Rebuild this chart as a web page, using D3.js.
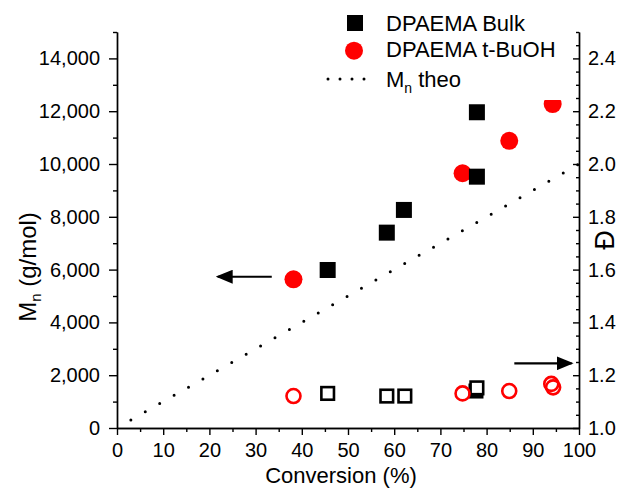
<!DOCTYPE html>
<meta charset="utf-8">
<script src="https://cdn.jsdelivr.net/npm/d3@7"></script>
<style>
  body { margin: 0; background: #fff; }
  text { font-family: Arial, "Liberation Sans", sans-serif; fill: #000; }
</style>
<div id="my_dataviz"></div>
<script>

// Mn vs conversion
var bulkConv = [45.6, 58.4, 62.1, 77.9, 77.9];
var bulkMn = [5985, 7400, 8260, 9520, 11960];
var tbuConv = [38.2, 74.8, 84.9, 94.3];
var tbuMn = [5630, 9650, 10880, 12270];

// dispersity vs conversion
var bulkDispConv = [45.6, 58.4, 62.3, 77.9];
var bulkDisp = [1.131, 1.121, 1.121, 1.152];
var bulkDispFilledConv = [77.7];
var bulkDispFilled = [1.140];
var tbuDispConv = [38.2, 74.8, 84.9, 94.0, 94.4];
var tbuDisp = [1.121, 1.131, 1.140, 1.167, 1.154];

// theoretical Mn
var theoConv = [3, 100];
var theoMn = [300, 10000];

// arrows (conversion from, to ; value)
var leftArrowConv = [33.5, 21.8];
var leftArrowMn = 5730;
var rightArrowConv = [86.0, 98.4];
var rightArrowDisp = 1.245;

// ticks
var xTicks = [0, 10, 20, 30, 40, 50, 60, 70, 80, 90, 100];
var xMinor = [5, 15, 25, 35, 45, 55, 65, 75, 85, 95];
var yTicks = [0, 2000, 4000, 6000, 8000, 10000, 12000, 14000];
var yMinor = [1000, 3000, 5000, 7000, 9000, 11000, 13000, 15000];
var dTicks = [1.0, 1.2, 1.4, 1.6, 1.8, 2.0, 2.2, 2.4];
var dMinor = [1.05, 1.1, 1.15, 1.25, 1.3, 1.35, 1.45, 1.5, 1.55, 1.65, 1.7, 1.75,
              1.85, 1.9, 1.95, 2.05, 2.1, 2.15, 2.25, 2.3, 2.35, 2.45, 2.5];

var W = 621, H = 489;
var margin = {left: 117, right: 579, top: 32, bottom: 428};

var svg = d3.select("#my_dataviz")
  .append("svg")
    .attr("width", W)
    .attr("height", H);

var x = d3.scaleLinear().domain([0, 100]).range([margin.left, margin.right]);
var y = d3.scaleLinear().domain([0, 15000]).range([margin.bottom, margin.top]);
var yd = d3.scaleLinear().domain([1.0, 2.5]).range([margin.bottom, margin.top]);

function styleAxis(g) {
  g.selectAll("path, line").attr("stroke", "#000").attr("stroke-width", 1.4);
  g.selectAll("text").attr("font-size", 20).attr("fill", "#000")
    .attr("font-family", "Arial, 'Liberation Sans', sans-serif");
}

// bottom axis
svg.append("g")
  .attr("transform", "translate(0," + margin.bottom + ")")
  .call(d3.axisBottom(x).tickValues(xMinor).tickSize(4).tickFormat("").tickSizeOuter(0))
  .call(styleAxis);
svg.append("g")
  .attr("transform", "translate(0," + margin.bottom + ")")
  .call(d3.axisBottom(x).tickValues(xTicks).tickSize(7).tickPadding(8).tickSizeOuter(0))
  .call(styleAxis);

// left axis
svg.append("g")
  .attr("transform", "translate(" + margin.left + ",0)")
  .call(d3.axisLeft(y).tickValues(yMinor).tickSize(4).tickFormat("").tickSizeOuter(0))
  .call(styleAxis);
svg.append("g")
  .attr("transform", "translate(" + margin.left + ",0)")
  .call(d3.axisLeft(y).tickValues(yTicks).tickSize(8).tickPadding(9).tickSizeOuter(0).tickFormat(d3.format(",")))
  .call(styleAxis);

// right axis (ticks point inward)
svg.append("g")
  .attr("transform", "translate(" + margin.right + ",0)")
  .call(d3.axisRight(yd).tickValues(dMinor).tickSize(-3).tickFormat("").tickSizeOuter(0))
  .call(styleAxis);
svg.append("g")
  .attr("transform", "translate(" + margin.right + ",0)")
  .call(d3.axisRight(yd).tickValues(dTicks).tickSize(-6).tickPadding(9).tickSizeOuter(0).tickFormat(d3.format(".1f")))
  .call(styleAxis);

// axis titles
svg.append("text")
  .attr("x", 341).attr("y", 483)
  .attr("text-anchor", "middle")
  .style("font-size", "22px")
  .text("Conversion (%)");

var yt = svg.append("text")
  .attr("transform", "translate(36,267) rotate(-90)")
  .attr("text-anchor", "middle")
  .style("font-size", "24px");
yt.append("tspan").text("M");
yt.append("tspan").attr("dy", 5).style("font-size", "15px").text("n");
yt.append("tspan").attr("dy", -5).text(" (g/mol)");

svg.append("text")
  .attr("transform", "translate(614,240) rotate(-90)")
  .attr("text-anchor", "middle")
  .style("font-size", "27px")
  .text("Đ");

// theoretical line
svg.append("path")
  .datum(d3.zip(theoConv, theoMn))
  .attr("d", d3.line().x(function(d){ return x(d[0]) }).y(function(d){ return y(d[1]) }))
  .attr("stroke", "#000")
  .attr("stroke-width", 3)
  .attr("stroke-linecap", "round")
  .attr("stroke-dasharray", "0,16.6")
  .attr("fill", "none");

// Mn points
svg.selectAll("circle.tbuMn")
  .data(d3.zip(tbuConv, tbuMn))
  .enter().append("circle")
    .attr("cx", function(d){ return x(d[0]) })
    .attr("cy", function(d){ return y(d[1]) })
    .attr("r", 9)
    .attr("fill", "#f00");

svg.selectAll("rect.bulkMn")
  .data(d3.zip(bulkConv, bulkMn))
  .enter().append("rect")
    .attr("x", function(d){ return x(d[0]) - 8 })
    .attr("y", function(d){ return y(d[1]) - 8 })
    .attr("width", 16).attr("height", 16)
    .attr("fill", "#000");

// dispersity points
svg.selectAll("rect.bulkDf")
  .data(d3.zip(bulkDispFilledConv, bulkDispFilled))
  .enter().append("rect")
    .attr("x", function(d){ return x(d[0]) - 7.5 })
    .attr("y", function(d){ return yd(d[1]) - 7.5 })
    .attr("width", 15).attr("height", 15)
    .attr("fill", "#000");

svg.selectAll("rect.bulkD")
  .data(d3.zip(bulkDispConv, bulkDisp))
  .enter().append("rect")
    .attr("x", function(d){ return x(d[0]) - 6.3 })
    .attr("y", function(d){ return yd(d[1]) - 6.3 })
    .attr("width", 12.6).attr("height", 12.6)
    .attr("fill", "#fff")
    .attr("stroke", "#000")
    .attr("stroke-width", 2.6);

svg.selectAll("circle.tbuD")
  .data(d3.zip(tbuDispConv, tbuDisp))
  .enter().append("circle")
    .attr("cx", function(d){ return x(d[0]) })
    .attr("cy", function(d){ return yd(d[1]) })
    .attr("r", 7)
    .attr("fill", "none")
    .attr("stroke", "#f00")
    .attr("stroke-width", 2.6);

// arrows
var defs = svg.append("defs");
defs.append("marker")
  .attr("id", "head")
  .attr("markerUnits", "userSpaceOnUse")
  .attr("markerWidth", 17).attr("markerHeight", 14)
  .attr("refX", 15).attr("refY", 7)
  .attr("orient", "auto")
  .append("path")
    .attr("d", "M0,0L17,7L0,14Z")
    .attr("fill", "#000");

svg.append("line")
  .attr("x1", x(leftArrowConv[0])).attr("x2", x(leftArrowConv[1]))
  .attr("y1", y(leftArrowMn)).attr("y2", y(leftArrowMn))
  .attr("stroke", "#000").attr("stroke-width", 2.2)
  .attr("marker-end", "url(#head)");

svg.append("line")
  .attr("x1", x(rightArrowConv[0])).attr("x2", x(rightArrowConv[1]))
  .attr("y1", yd(rightArrowDisp)).attr("y2", yd(rightArrowDisp))
  .attr("stroke", "#000").attr("stroke-width", 2.2)
  .attr("marker-end", "url(#head)");

// legend
var legend = svg.append("g");
legend.append("rect")
  .attr("x", 322).attr("y", 4).attr("width", 245).attr("height", 96)
  .attr("fill", "#fff");
legend.append("rect")
  .attr("x", 347).attr("y", 15).attr("width", 16).attr("height", 16)
  .attr("fill", "#000");
legend.append("circle")
  .attr("cx", 354).attr("cy", 50.7).attr("r", 9)
  .attr("fill", "#f00");
legend.append("line")
  .attr("x1", 328).attr("x2", 376).attr("y1", 79).attr("y2", 79)
  .attr("stroke", "#000").attr("stroke-width", 3)
  .attr("stroke-linecap", "round")
  .attr("stroke-dasharray", "0,12");
legend.append("text").attr("x", 386).attr("y", 31).style("font-size", "22px").text("DPAEMA Bulk");
legend.append("text").attr("x", 386).attr("y", 57).style("font-size", "22px").text("DPAEMA t-BuOH");
var lt = legend.append("text").attr("x", 386).attr("y", 87).style("font-size", "22px");
lt.append("tspan").text("M");
lt.append("tspan").attr("dy", 6).style("font-size", "14px").text("n");
lt.append("tspan").attr("dy", -6).text(" theo");

</script>
